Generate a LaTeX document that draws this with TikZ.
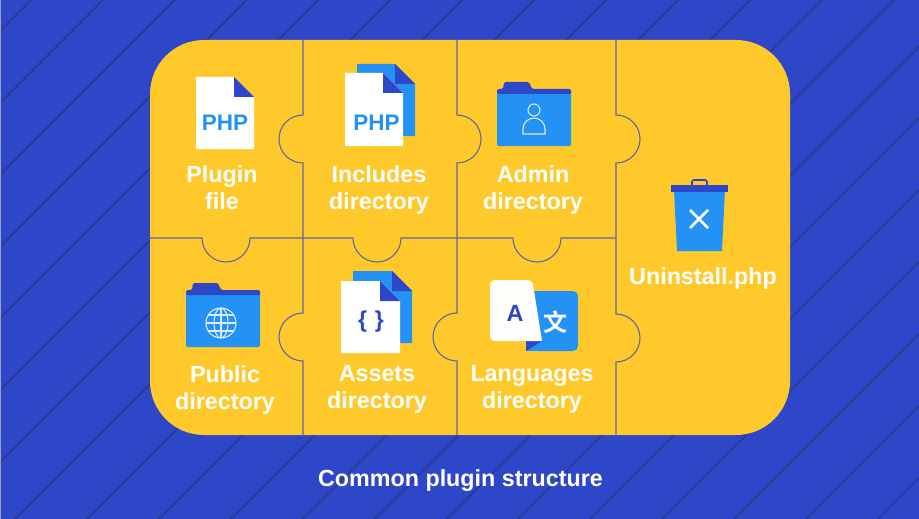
\documentclass[tikz,border=0pt]{standalone}
\usepackage{fontspec}
\setmainfont{Liberation Sans}
\newfontfamily\cjkfont{Noto Sans CJK SC}[BoldFont={* Bold}]
\usetikzlibrary{calc}
\definecolor{bgblue}{HTML}{2E46C8}
\definecolor{stripe}{HTML}{2B3A8E}
\definecolor{board}{HTML}{FFC92C}
\definecolor{seam}{HTML}{5B68A8}
\definecolor{iconblue}{HTML}{2491F5}
\definecolor{iconline}{HTML}{DCEBFB}
\tikzset{
	seamline/.style={draw=seam, line width=1.1pt},
	label/.style={text=white, font=\bfseries\fontsize{23.3}{27}\selectfont, align=center, inner sep=0pt},
	tag/.style={font=\bfseries\fontsize{22.5}{24}\selectfont, inner sep=0pt},
	glyphline/.style={draw=iconline, line width=1.1pt},
}
% a page with a folded corner: left, top, width, height, fill
\def\sheet#1#2#3#4#5{
	\fill[#5] (#1, #2) -- ({#1+#3-20}, #2) -- ({#1+#3}, {#2+20}) -- ({#1+#3}, {#2+#4}) -- (#1, {#2+#4}) -- cycle;
	\fill[bgblue] ({#1+#3-20}, #2) -- ({#1+#3}, {#2+20}) -- ({#1+#3-20}, {#2+20}) -- cycle;
}
% a folder: left, top of the tab
\def\folder#1#2{
	\fill[iconblue, rounded corners=1.5pt] (#1, {#2+9}) rectangle ({#1+74}, {#2+64});
	\fill[bgblue, rounded corners=1.5pt] (#1, {#2+12}) -- (#1, {#2+7}) -- ({#1+6}, {#2+7}) -- ({#1+7}, #2) -- ({#1+32}, #2) -- ({#1+35}, {#2+7}) -- ({#1+74}, {#2+7}) -- ({#1+74}, {#2+12}) -- cycle;
}
\begin{document}
\begin{tikzpicture}[x=1pt, y=-1pt]
			%%%%% BACKGROUND %%%%%
			\useasboundingbox (0, 0) rectangle (919, 519);
			\fill[bgblue] (0, 0) rectangle (919, 519);
			\begin{scope}
				\clip (0, 0) rectangle (919, 519);
				\foreach \k in {0,...,20}
					\draw[stripe, line width=1.5pt] ({31+71.9*\k}, 0) -- (0, {31+71.9*\k});
			\end{scope}
			\fill[black!30!bgblue!45!white] (0, 0) rectangle (1, 519);
			
			%%%%% BOARD %%%%%
			\fill[board, rounded corners=54pt] (150, 40) rectangle (790, 435);
			
			\draw[seamline] (303, 40) -- (303, 115) arc (270:90:24) -- (303, 313) arc (270:90:24) -- (303, 435);
			\draw[seamline] (457, 40) -- (457, 115) arc (-90:90:24) -- (457, 313) arc (270:90:24) -- (457, 435);
			\draw[seamline] (616, 40) -- (616, 115) arc (-90:90:24) -- (616, 314) arc (-90:90:24) -- (616, 435);
			\draw[seamline] (150, 238) -- (202, 238) arc (180:0:24) -- (353, 238) arc (180:0:24) -- (513, 238) arc (180:0:24) -- (616, 238);
			
			%%%%% PLUGIN FILE %%%%%
			\sheet{196}{77}{58}{72}{white}
			\node[tag, text=iconblue] (phpone) at (225, 123) {PHP};
			\node[label] (plugin) at (222, 187.5) {Plugin\\file};
			
			%%%%% INCLUDES %%%%%
			\sheet{357}{64}{58}{72}{iconblue}
			\sheet{345}{73}{58}{73}{white}
			\node[tag, text=iconblue] (phptwo) at (376.5, 123) {PHP};
			\node[label] (includes) at (379, 189.5) {Includes\\directory};
			
			%%%%% ADMIN %%%%%
			\folder{497}{82}
			\draw[glyphline] (534, 110) circle (6);
			\draw[glyphline] (523, 134) -- (523, 129) arc (180:360:11 and 11) -- (545, 134) -- cycle;
			\node[label] (admin) at (533, 189.5) {Admin\\directory};
			
			%%%%% UNINSTALL %%%%%
			\draw[bgblue, line width=1.6pt, rounded corners=2pt] (692, 185) -- (692, 180) -- (707, 180) -- (707, 185);
			\fill[iconblue] (674, 190) -- (725, 190) -- (722, 251) -- (677, 251) -- cycle;
			\fill[bgblue] (671, 185) rectangle (728, 192);
			\draw[white, line width=2.8pt] (690, 210) -- (708, 228);
			\draw[white, line width=2.8pt] (708, 210) -- (690, 228);
			\node[label] (uninstall) at (703, 278.5) {Uninstall.php};
			
			%%%%% PUBLIC %%%%%
			\folder{186}{283}
			\draw[glyphline] (221, 323) circle (15);
			\draw[glyphline] (221, 323) ellipse (7 and 15);
			\draw[glyphline] (221, 308) -- (221, 338);
			\draw[glyphline] (206, 323) -- (236, 323);
			\draw[glyphline] (208, 315) -- (234, 315);
			\draw[glyphline] (208, 331) -- (234, 331);
			\node[label] (public) at (225, 389.5) {Public\\directory};
			
			%%%%% ASSETS %%%%%
			\sheet{353}{271}{59}{72}{iconblue}
			\sheet{341}{281}{59}{72}{white}
			\node[tag, text=bgblue, font=\bfseries\fontsize{23}{24}\selectfont] (braces) at (371, 322) {\{\,\,\}};
			\node[label] (assets) at (377, 389.5) {Assets\\directory};
			
			%%%%% LANGUAGES %%%%%
			\fill[iconblue, rounded corners=5pt] (533, 291) rectangle (578, 351);
			\fill[iconblue] (526, 335) rectangle (540, 351);
			\fill[iconblue] (533, 291) rectangle (540, 340);
			\fill[bgblue] (526, 341) -- (542, 341) -- (526, 351) -- cycle;
			\fill[white!97!board] (542, 341) -- (496, 341) .. controls (492, 341) and (490, 339) .. (490, 335) -- (490, 286) .. controls (490, 282) and (492, 280) .. (496, 280) -- (527, 280) .. controls (530, 280) and (532, 281) .. (533, 284) -- cycle;
			\node[tag, text=bgblue, font=\bfseries\fontsize{23.5}{24}\selectfont] (latin) at (515, 313) {A};
			\node[text=white, inner sep=0pt, font=\cjkfont\bfseries\fontsize{24}{24}\selectfont] (hanzi) at (555, 322.5) {文};
			\node[label] (languages) at (532, 389.5) {Languages\\directory};
			
			%%%%% TITLE %%%%%
			\node[label] (title) at (460.5, 480.5) {Common plugin structure};
			
			%%%%% END %%%%%
\end{tikzpicture}
\end{document}
